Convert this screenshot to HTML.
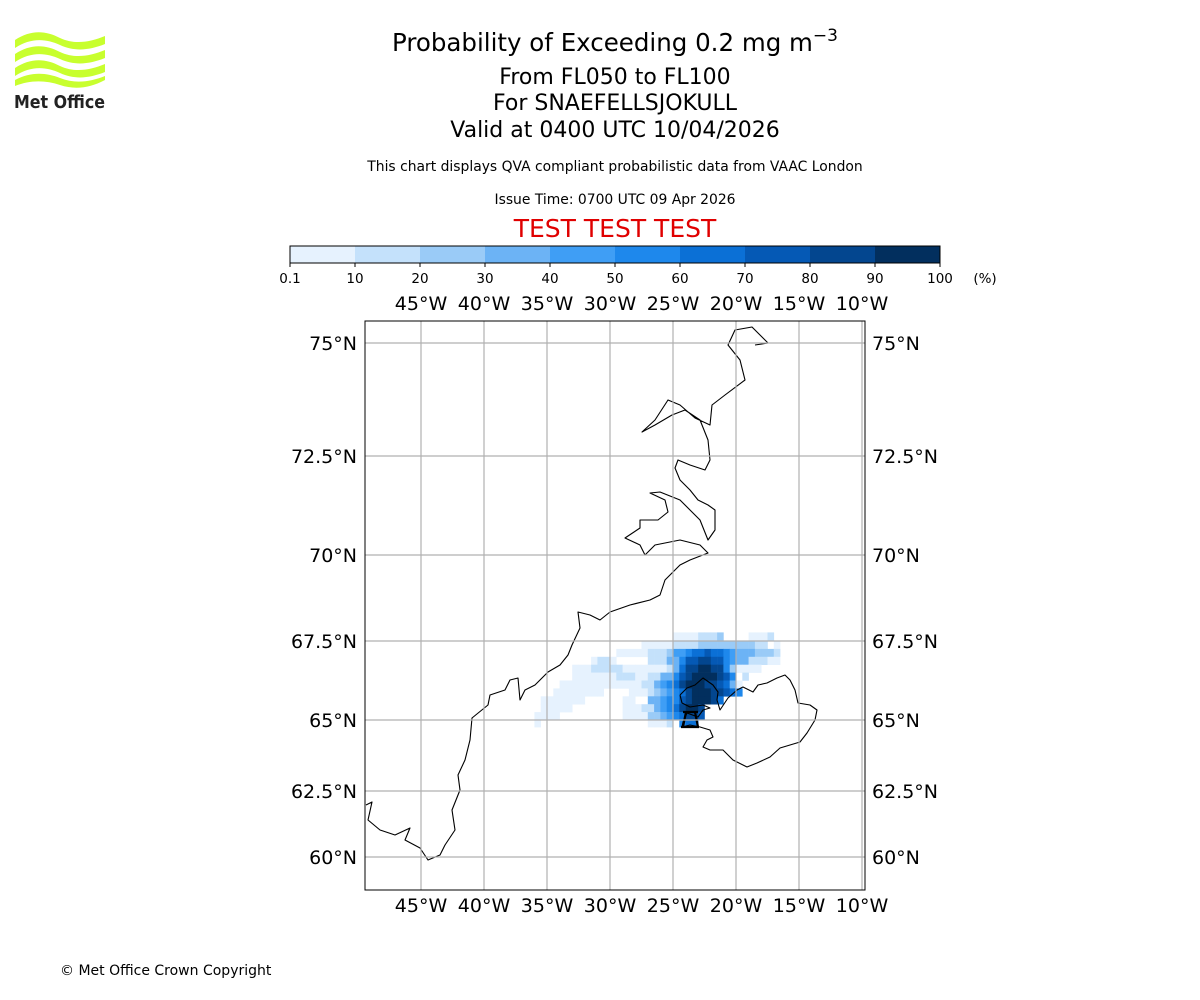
<!DOCTYPE html>
<html><head><meta charset="utf-8">
<style>
body{margin:0;background:#fff;}
svg{display:block;}
text{font-family:"DejaVu Sans","Liberation Sans",sans-serif;}
</style></head>
<body>
<svg id="chart" width="1200" height="1000" viewBox="0 0 1200 1000" xmlns="http://www.w3.org/2000/svg">
<rect width="1200" height="1000" fill="#fff"/>
<g>
<path d="M15,40 C30,30 45,30 60,38 C75,45 90,42 105,36 L105,44 C90,50 75,52 60,45 C45,38 30,38 15,48 Z" fill="#c8ff2e"/>
<path d="M15,54 C30,44 45,44 60,52 C75,59 90,56 105,50 L105,58 C90,64 75,66 60,59 C45,52 30,52 15,62 Z" fill="#c8ff2e"/>
<path d="M15,68 C30,58 45,58 60,66 C75,73 90,70 105,64 L105,72 C90,78 75,80 60,73 C45,66 30,66 15,76 Z" fill="#c8ff2e"/>
<path d="M15,80 C30,72 45,72 60,78 C75,84 90,82 105,76 L105,80 C90,88 75,90 60,85 C45,80 30,80 15,86 Z" fill="#c8ff2e"/>
<text x="14" y="108" font-size="18" font-weight="bold" fill="#222" textLength="91" lengthAdjust="spacingAndGlyphs" font-family="Liberation Sans">Met Office</text>
</g>
<g text-anchor="middle">
<text x="615" y="51" font-size="24.5">Probability of Exceeding 0.2 mg m<tspan dy="-10" font-size="17">−3</tspan></text>
<text x="615" y="84" font-size="22">From FL050 to FL100</text>
<text x="615" y="110" font-size="22">For SNAEFELLSJOKULL</text>
<text x="615" y="137" font-size="22">Valid at 0400 UTC 10/04/2026</text>
<text x="615" y="171" font-size="13.9">This chart displays QVA compliant probabilistic data from VAAC London</text>
<text x="615" y="204" font-size="13.9">Issue Time: 0700 UTC 09 Apr 2026</text>
<text x="615" y="237" font-size="25" fill="#e00000">TEST TEST TEST</text>
</g>
<g id="cbar"></g>
<g id="map"></g>
<text x="60" y="975" font-size="14">© Met Office Crown Copyright</text>
</svg>
<script>
const levelColors = ["#e6f2fe","#c4e1fb","#9acbf7","#6cb3f5","#3f9ef5","#1e88ec","#0b70d6","#0559b5","#03468f","#022f5e"];
const levelBounds = [0.1,10,20,30,40,50,60,70,80,90,100];
const lonTicks = [-45,-40,-35,-30,-25,-20,-15,-10];
const latTicks = [75,72.5,70,67.5,65,62.5,60];
const latTickLabels = ["75°N","72.5°N","70°N","67.5°N","65°N","62.5°N","60°N"];
// probability grid: lon start -38, 0.5 deg cells; lat top 67.75, 0.25 deg rows; '.'=none, digit=level bin
const gridLon0 = -38, gridDLon = 0.5, gridLat0 = 67.75, gridDLat = 0.25;
const gridRows = [
"..........................00001112....0001..",
".....................00000111122222222211.0.",
".................00000111244566766543332221.",
".............0110.....111335778877543311100.",
"..........000111110000000136889988520000....",
"..........00000001110011335789999875.1......",
"........00000000000001134568999887630.......",
".......00000000....000123456899988765.......",
".....0000000......00..334557899986..........",
".....00000........0001134568998.............",
"....0000..........0000223456887.............",
"....0.................0001.566.............."
];
const ns="http://www.w3.org/2000/svg";
function mk(tag,attrs,parent){const e=document.createElementNS(ns,tag);for(const k in attrs)e.setAttribute(k,attrs[k]);parent.appendChild(e);return e;}
const X0=365,X1=865,Y0=321,Y1=890;
function xLon(lon){return 421+(lon+45)*12.6;}
const latRef=[60,62.5,65,67.5,70,72.5,75], yRef=[857,791,720,641,555,456,343];
function yLat(lat){
  let i=0; if(lat<latRef[0]) i=0; else { while(i<latRef.length-2 && lat>latRef[i+1]) i++; }
  const t=(lat-latRef[i])/(latRef[i+1]-latRef[i]); return yRef[i]+t*(yRef[i+1]-yRef[i]);
}
const cb=document.getElementById('cbar');
const cbX=(i)=>290+i*65;
for(let i=0;i<levelColors.length;i++){
  const r=mk('rect',{x:cbX(i),y:246,width:65.5,height:17,fill:levelColors[i]},cb);
  
  
}
const cbo=mk('rect',{x:290,y:246,width:650,height:17,fill:'none',stroke:'#000','stroke-width':1},cb);


levelBounds.forEach((b,i)=>{
  mk('line',{x1:cbX(i),x2:cbX(i),y1:263,y2:267,stroke:'#000'},cb);
  const t=mk('text',{x:cbX(i),y:283,'font-size':13.5,'text-anchor':'middle'},cb);
  t.textContent=String(b);
  
  
});
const pu=mk('text',{x:985,y:283,'font-size':13.5,'text-anchor':'middle'},cb);
pu.textContent='(%)';


const m=document.getElementById('map');
const cp=mk('clipPath',{id:'clip'},m);
mk('rect',{x:X0,y:Y0,width:X1-X0,height:Y1-Y0},cp);
const g=mk('g',{'clip-path':'url(#clip)'},m);


gridRows.forEach((row,r)=>{
  for(let c=0;c<row.length;c++){
    const ch=row[c]; if(ch==='.') continue;
    const lv=+ch;
    const lonA=gridLon0+c*gridDLon, latA=gridLat0-r*gridDLat;
    const xa=xLon(lonA), xb=xLon(lonA+gridDLon), ya=yLat(latA), yb=yLat(latA-gridDLat);
    const cell=mk('rect',{x:xa,y:ya,width:xb-xa+0.3,height:yb-ya+0.3,fill:levelColors[lv]},g);
    
    
  }
});
const gl=mk('g',{stroke:'#b0b0b0','stroke-width':1.2},m);


lonTicks.forEach(l=>{mk('line',{x1:xLon(l),x2:xLon(l),y1:Y0,y2:Y1},gl);});
latTicks.forEach(l=>{mk('line',{x1:X0,x2:X1,y1:yLat(l),y2:yLat(l)},gl);});
const greenland="366,805 372,802 368,820 380,830 395,835 410,828 405,840 420,848 428,860 440,855 445,845 455,830 452,810 460,790 458,775 465,760 470,740 472,718 488,705 490,695 505,690 510,680 518,678 520,700 525,690 535,685 548,672 560,665 568,655 572,645 580,628 578,612 590,615 600,620 610,612 630,605 650,600 660,595 665,580 680,565 690,560 708,553 700,545 680,540 655,545 645,555 640,545 625,538 640,528 640,520 658,520 668,512 665,500 650,493 660,492 680,500 690,510 700,520 708,540 715,530 715,510 708,505 698,500 690,490 680,480 675,468 678,460 690,465 705,470 710,460 708,440 700,420 685,410 672,415 655,425 642,432 655,420 668,400 680,405 695,418 710,425 712,405 725,395 745,380 740,360 728,345 735,330 752,327 760,335 768,343 755,345";
const iceland="680,695 687,688 695,685 703,678 713,685 718,692 717,700 720,710 728,698 737,690 743,687 753,692 758,685 767,683 777,678 785,675 790,680 795,690 798,703 810,705 817,710 815,720 807,733 800,742 780,748 770,757 757,763 747,767 733,760 723,750 710,750 703,747 707,740 713,737 710,730 700,727 690,725 682,727 683,722 687,713 698,717 703,710 710,708 703,705 690,707 682,703 680,695";
const c1=mk('polyline',{points:greenland,fill:'none',stroke:'#000','stroke-width':1.1,'stroke-linejoin':'round'},g);


const c2=mk('polyline',{points:iceland,fill:'none',stroke:'#000','stroke-width':1.1,'stroke-linejoin':'round'},g);


const vm=mk('path',{d:'M683,712 L698,712 M686,712 L683,727 M695,712 L698,727 M681,727 L699,727',fill:'none',stroke:'#000','stroke-width':2.2},g);


const fr=mk('rect',{x:X0,y:Y0,width:X1-X0,height:Y1-Y0,fill:'none',stroke:'#000','stroke-width':1},m);


lonTicks.forEach(l=>{
  const lab=Math.abs(l)+'°W';
  [310,912].forEach(y=>{
    const t=mk('text',{x:xLon(l),y:y,'font-size':19,'text-anchor':'middle'},m);
    t.textContent=lab;
    
    
  });
});
latTicks.forEach((l,i)=>{
  const t=mk('text',{x:357,y:yLat(l)+7,'font-size':19,'text-anchor':'end'},m);
  t.textContent=latTickLabels[i];
  
  
  const t2=mk('text',{x:872,y:yLat(l)+7,'font-size':19,'text-anchor':'start'},m);
  t2.textContent=latTickLabels[i];
  
  
});
</script>
</body></html>
